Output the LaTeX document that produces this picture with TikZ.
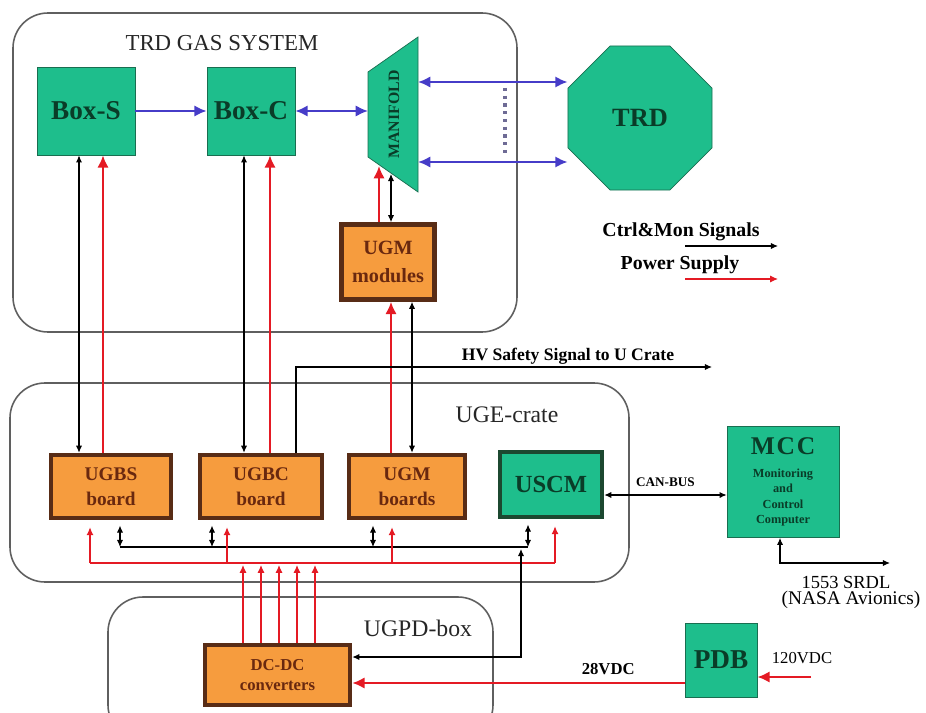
\documentclass[tikz,border=0pt]{standalone}
\usepackage{fontspec}
\setmainfont{Liberation Serif}
\usepackage{xcolor}
\usetikzlibrary{shapes.geometric, arrows.meta, calc}
\definecolor{gasgreen}{RGB}{30,190,140}
\definecolor{gastext}{RGB}{10,60,40}
\definecolor{gasedge}{RGB}{25,110,80}
\definecolor{uscmedge}{RGB}{28,72,48}
\definecolor{ugorange}{RGB}{246,156,62}
\definecolor{ugbrown}{RGB}{88,44,22}
\definecolor{ugtext}{RGB}{105,40,15}
\definecolor{flowblue}{RGB}{70,60,200}
\definecolor{pwrred}{RGB}{228,26,36}
\definecolor{framegray}{RGB}{95,95,95}

\begin{document}
\begin{tikzpicture}[
    x=0.02cm, y=-0.02cm,
    frame/.style={draw=framegray, line width=0.9pt, rounded corners=0.7cm},
    gasbox/.style={draw=gasedge, fill=gasgreen, text=gastext, align=center, inner sep=0pt},
    ctrlbox/.style={draw=ugbrown, fill=ugorange, line width=2.6pt, text=ugtext, align=center, inner sep=0pt},
    grouplabel/.style={text=black!85, font=\fontsize{13.5}{16}\selectfont},
    flow/.style={line width=1.3pt, color=flowblue, >={Latex[length=7pt,width=6.5pt]}},
    sig/.style={line width=0.6pt, color=black, >={Latex[length=4pt,width=3.5pt]}},
    pwr/.style={line width=1.3pt, color=pwrred, >={Latex[length=7pt,width=6.5pt]}},
    pwrthin/.style={line width=0.6pt, color=pwrred, >={Latex[length=4.5pt,width=4pt]}}
]
    \useasboundingbox (0,0) rectangle (926,713);

    % Group frames
    \draw[frame] (13,13) rectangle (517,332);
    \draw[frame] (10,383) rectangle (629,582);
    \draw[frame] (108,597) rectangle (493,740);
    \node[grouplabel, font=\fontsize{13}{15}\selectfont] (gaslbl) at (222,43) {TRD GAS SYSTEM};
    \node[grouplabel] (ugelbl) at (507,415) {UGE-crate};
    \node[grouplabel] (ugpdlbl) at (418,628) {UGPD-box};

    % Gas system
    \node[gasbox, minimum width=1.96cm, minimum height=1.76cm, font=\fontsize{15.5}{18}\selectfont\bfseries] (boxs) at (86,111) {Box-S};
    \node[gasbox, minimum width=1.76cm, minimum height=1.76cm, font=\fontsize{15.5}{18}\selectfont\bfseries] (boxc) at (251,111) {Box-C};
    \filldraw[draw=gasedge, fill=gasgreen] (368,72) -- (418,37) -- (418,192) -- (368,157) -- cycle;
    \node[rotate=90, text=gastext, font=\fontsize{9}{10}\selectfont\bfseries] (manifold) at (394,114.5) {MANIFOLD};
    \coordinate (mfW) at (368,111);
    \coordinate (mfE) at (418,114.5);
    \node[gasbox, regular polygon, regular polygon sides=8, minimum size=3.12cm, font=\fontsize{15}{18}\selectfont\bfseries] (trd) at (640,118) {TRD};
    \node[ctrlbox, minimum width=1.86cm, minimum height=1.5cm, font=\fontsize{11.5}{16}\selectfont\bfseries] (ugmmod) at (388,262) {UGM\\modules};

    % Legend
    \node[font=\fontsize{11.3}{13}\selectfont\bfseries] (legctrl) at (681,232) {Ctrl\&Mon Signals};
    \node[font=\fontsize{11.3}{13}\selectfont\bfseries] (legpwr) at (680,265) {Power Supply};
    \coordinate (ctrlA) at (685,246);
    \coordinate (ctrlB) at (778,246);
    \coordinate (pwrA) at (685,279);
    \coordinate (pwrB) at (778,279);
    \draw[sig, ->] (ctrlA) -- (ctrlB);
    \draw[pwrthin, ->] (pwrA) -- (pwrB);

    % Crate boards
    \node[ctrlbox, minimum width=2.4cm, minimum height=1.26cm, font=\fontsize{11}{14}\selectfont\bfseries] (ugbs) at (111,486.5) {UGBS\\board};
    \node[ctrlbox, minimum width=2.44cm, minimum height=1.26cm, font=\fontsize{11}{14}\selectfont\bfseries] (ugbc) at (261,486.5) {UGBC\\board};
    \node[ctrlbox, minimum width=2.32cm, minimum height=1.26cm, font=\fontsize{11}{14}\selectfont\bfseries] (ugmbd) at (407,486.5) {UGM\\boards};
    \node[gasbox, draw=uscmedge, line width=2.6pt, minimum width=2.04cm, minimum height=1.3cm, font=\fontsize{14}{16}\selectfont\bfseries] (uscm) at (551,484.5) {USCM};

    % Outside units
    \node[gasbox, minimum width=2.24cm, minimum height=2.22cm, font=\fontsize{7}{8.8}\selectfont\bfseries] (mcc) at (783,482)
        {{\fontsize{14.5}{15}\selectfont M\kern1ptC\kern1ptC}\\[4pt]
         Monitoring\\and\\Control\\Computer};
    \node[gasbox, minimum width=1.44cm, minimum height=1.48cm, font=\fontsize{15.5}{18}\selectfont\bfseries] (pdb) at (721,660) {PDB};
    \node[ctrlbox, minimum width=2.9cm, minimum height=1.2cm, font=\fontsize{9.5}{11}\selectfont\bfseries] (dcdc) at (277.5,675) {DC-DC\\converters};

    % Gas flow
    \draw[flow, ->] (boxs.east) -- (boxc.west);
    \draw[flow, <->] (boxc.east) -- (mfW);
    \draw[flow, <->] (mfE |- 0,82) -- (trd.west |- 0,82);
    \draw[flow, <->] (mfE |- 0,162) -- (trd.west |- 0,162);
    \draw[gray!70!flowblue, line width=2pt, dash pattern=on 1.8pt off 2.6pt] (505,88) -- (505,156);

    % Signals and power up to the gas system
    \draw[sig, <->] (79,0 |- boxs.south) -- (79,0 |- ugbs.north);
    \draw[pwr, ->] (103,0 |- ugbs.north) -- (103,0 |- boxs.south);
    \draw[sig, <->] (244,0 |- boxc.south) -- (244,0 |- ugbc.north);
    \draw[pwr, ->] (270,0 |- ugbc.north) -- (270,0 |- boxc.south);
    \draw[pwr, ->] (379,0 |- ugmmod.north) -- (379,166);
    \draw[sig, <->] (391,174) -- (391,0 |- ugmmod.north);
    \draw[pwr, ->] (391,0 |- ugmbd.north) -- (391,0 |- ugmmod.south);
    \draw[sig, <->] (412,0 |- ugmmod.south) -- (412,0 |- ugmbd.north);

    % HV safety signal
    \coordinate (hvend) at (712,367);
    \draw[sig, ->] (296,0 |- ugbc.north) |- (hvend);
    \node[font=\fontsize{10}{12}\selectfont\bfseries] (hvlbl) at (568,356) {HV Safety Signal to U Crate};

    % Crate buses
    \coordinate (busL) at (120,547);
    \coordinate (busR) at (528,547);
    \draw[sig] (busL) -- (busR);
    \foreach \bx/\bn in {120/ugbs, 212/ugbc, 373/ugmbd, 528/uscm}
        \draw[sig, <->, shorten <=3pt] (\bx,0 |- \bn.south) -- (\bx,547);
    \coordinate (redL) at (90,563);
    \coordinate (redR) at (555,563);
    \draw[pwrthin] (redL) -- (redR);
    \foreach \rx/\rn in {90/ugbs, 227/ugbc, 392/ugmbd, 555/uscm}
        \draw[pwrthin, ->, shorten >=4pt] (\rx,563) -- (\rx,0 |- \rn.south);
    \foreach \dx in {243,261,279,297,315}
        \draw[pwrthin, ->] (\dx,0 |- dcdc.north) -- (\dx,565);
    \draw[sig, <->] (521,549) |- (dcdc.east |- 0,657);

    % CAN bus and avionics
    \draw[sig, <->] (uscm.east |- 0,495) -- node[above=1pt, font=\fontsize{7.5}{9}\selectfont\bfseries] (canlbl) {CAN-BUS} (mcc.west |- 0,495);
    \coordinate (srdl) at (890,563);
    \draw[sig, <->] (780,0 |- mcc.south) |- (srdl);
    \node[font=\fontsize{10.5}{12}\selectfont] (srdllbl) at (846,582) {1553 SRDL};
    \node[font=\fontsize{11}{13}\selectfont] (nasalbl) at (851,600) {(NASA Avionics)};

    % Power feed
    \draw[pwr, ->] (pdb.west |- 0,683) -- node[pos=0.23, above=1pt, text=black, font=\fontsize{9.5}{11}\selectfont\bfseries] (vlbl) {28VDC} (dcdc.east |- 0,683);
    \coordinate (mains) at (811,677);
    \draw[pwr, ->] (mains) -- (pdb.east |- 0,677);
    \node[font=\fontsize{9.5}{11}\selectfont] (mainslbl) at (802,658) {120VDC};
\end{tikzpicture}
\end{document}
